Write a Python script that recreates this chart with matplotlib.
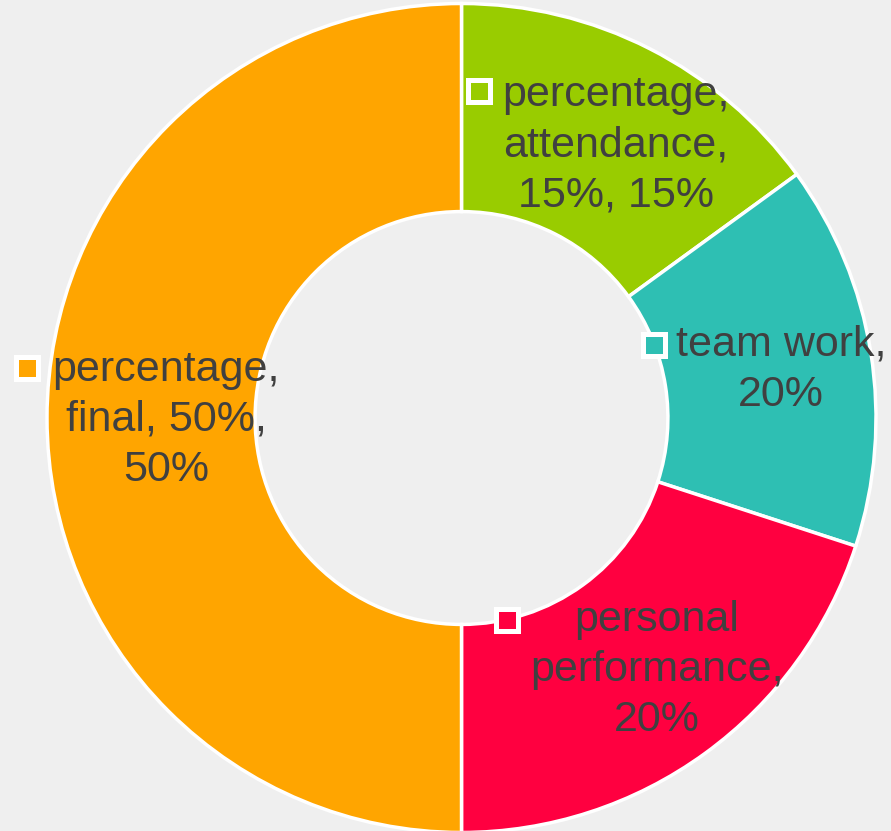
import matplotlib.pyplot as plt
from matplotlib.patches import Rectangle

# data
labels = ["percentage,\nattendance,\n15%, 15%", "team work,\n20%",
          "personal\nperformance,\n20%", "percentage,\nfinal, 50%,\n50%"]
values = [15, 15, 20, 50]
colors = ["#99CC00", "#2EBFB3", "#FF0040", "#FFA500"]

# layout (pixel coords, y down like the reference image)
W, H = 891, 831
center = (461.5, 413)
radius = 414.5
text_pos = [(616, 145), (781, 370), (657, 670), (166, 420)]
key_pos = [(479, 91), (654, 345), (507, 620), (27, 368)]

fig = plt.figure(figsize=(W / 100, H / 100), dpi=100, facecolor="#EFEFEF")
ax = fig.add_axes([0, 0, 1, 1])
ax.set_facecolor("#EFEFEF")

ax.pie(values, colors=colors, startangle=90, counterclock=False,
       center=center, radius=radius, frame=True,
       wedgeprops=dict(width=radius * 0.502, edgecolor="white", linewidth=2.5))

for lab, (tx, ty), (kx, ky), c in zip(labels, text_pos, key_pos, colors):
    ax.text(tx, H - ty, lab, ha="center", va="center", multialignment="center",
            fontsize=31, color="#404040", family="Liberation Sans", linespacing=1.33)
    ax.add_patch(Rectangle((kx - 11, H - ky - 11), 22, 22, facecolor=c,
                           edgecolor="white", linewidth=3.6, zorder=5))

ax.set_xlim(0, W)
ax.set_ylim(0, H)
ax.set_aspect("equal")
ax.axis("off")

fig.savefig("out.png", dpi=100, facecolor=fig.get_facecolor())
